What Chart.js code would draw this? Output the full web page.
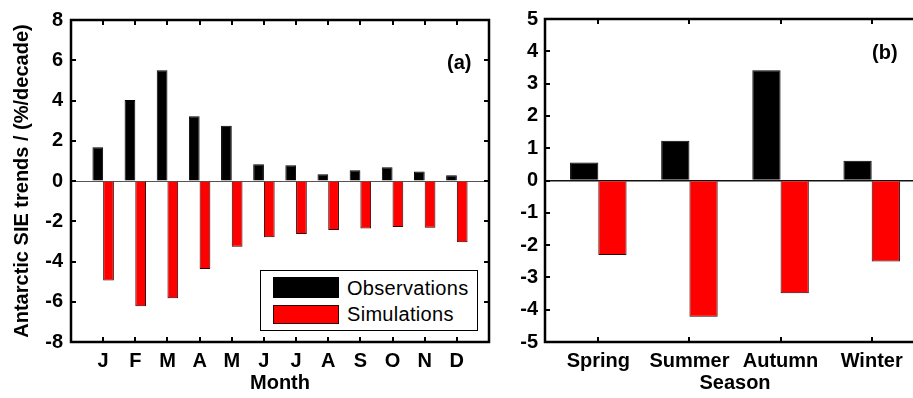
<html>
<head>
<script src="https://cdn.jsdelivr.net/npm/chart.js@4.4.1/dist/chart.umd.min.js"></script>
<style>
  body { margin: 0; padding: 0; background: #fff; width: 913px; height: 398px; overflow: hidden; position: relative; }
  canvas { position: absolute; top: 0; }
  #c1 { left: 0; }
  #c2 { left: 500px; }
  .lbl { position: absolute; font: bold 20px "Liberation Sans", Arial, sans-serif; color: #000; line-height: 20px; }
  #legend { position: absolute; left: 260px; top: 270px; width: 216px; height: 59px; border: 1.5px solid #000; background: #fff;
            font: 20px "Liberation Sans", Arial, sans-serif; letter-spacing: 0.3px; }
  #legend .sw { position: absolute; left: 12px; width: 66px; }
  #legend .tx { position: absolute; left: 86px; line-height: 20px; }
</style>
</head>
<body>
<canvas id="c1" width="500" height="398"></canvas>
<canvas id="c2" width="440" height="398"></canvas>
<div class="lbl" style="left:447px; top:52px;">(a)</div>
<div class="lbl" style="left:872px; top:42px;">(b)</div>
<div id="legend">
  <div class="sw" style="top:6px; height:21px; background:#000;"></div>
  <div class="tx" style="top:7px;">Observations</div>
  <div class="sw" style="top:34px; height:17px; background:#ff0000; border:1px solid #300; width:64px;"></div>
  <div class="tx" style="top:33px;">Simulations</div>
</div>
<script>
// monthly trends (%/decade)
const months = ['J', 'F', 'M', 'A', 'M', 'J', 'J', 'A', 'S', 'O', 'N', 'D'];
const obsMonthly = [1.68, 4.02, 5.5, 3.22, 2.74, 0.83, 0.78, 0.33, 0.53, 0.68, 0.47, 0.29];
const simMonthly = [-4.94, -6.22, -5.83, -4.37, -3.27, -2.79, -2.63, -2.43, -2.36, -2.28, -2.32, -3.04];

// seasonal trends
const seasons = ['Spring', 'Summer', 'Autumn', 'Winter'];
const obsSeasonal = [0.56, 1.23, 3.41, 0.61];
const simSeasonal = [-2.31, -4.22, -3.49, -2.51];

const font = { family: '"Liberation Sans", Arial, sans-serif', size: 20, weight: 'bold' };

const framePlugin = {
    id: 'frame',
    afterDatasetsDraw(chart) {
        const ctx = chart.ctx, a = chart.chartArea;
        const x = chart.scales.x, y = chart.scales.y;
        ctx.save();
        ctx.strokeStyle = '#000';
        ctx.lineWidth = 2.5;
        ctx.strokeRect(a.left, a.top, a.right - a.left, a.bottom - a.top);
        ctx.lineWidth = 2;
        ctx.beginPath();
        x.ticks.forEach(t => {
            const px = Math.round(x.getPixelForValue(t.value));
            ctx.moveTo(px, a.bottom); ctx.lineTo(px, a.bottom - 5);
            ctx.moveTo(px, a.top); ctx.lineTo(px, a.top + 5);
        });
        y.ticks.forEach(t => {
            const py = Math.round(y.getPixelForValue(t.value));
            ctx.moveTo(a.left, py); ctx.lineTo(a.left + 5, py);
            ctx.moveTo(a.right, py); ctx.lineTo(a.right - 5, py);
        });
        ctx.stroke();
        ctx.restore();
    }
};

function makeChart(id, cats, obs, sim, opts) {
    return new Chart(document.getElementById(id), {
        type: 'bar',
        data: {
            datasets: [{
                label: 'Observations',
                data: obs.map((v, i) => ({ x: i + 1, y: v })),
                backgroundColor: '#000',
                borderColor: '#000',
                borderWidth: 1
            }, {
                label: 'Simulations',
                data: sim.map((v, i) => ({ x: i + 1, y: v })),
                backgroundColor: '#ff0000',
                borderColor: '#330000',
                borderWidth: 1
            }]
        },
        options: {
            responsive: false,
            animation: false,
            layout: { padding: opts.padding },
            datasets: { bar: { categoryPercentage: opts.catPct, barPercentage: 1 } },
            plugins: { legend: { display: false }, tooltip: { enabled: false } },
            scales: {
                x: {
                    type: 'linear',
                    offset: false,
                    min: opts.xmin,
                    max: opts.xmax,
                    grid: { display: false, drawTicks: false },
                    border: { display: false },
                    afterBuildTicks: s => { s.ticks = cats.map((c, i) => ({ value: i + 1 })); },
                    ticks: {
                        autoSkip: false, maxRotation: 0, padding: 7, color: '#000', font: font,
                        callback: v => cats[v - 1] || ''
                    },
                    title: { display: true, text: opts.xTitle, color: '#000', font: font, padding: { top: 0, bottom: 3 } },
                    afterFit: s => { s.height = 56; }
                },
                y: {
                    min: opts.ymin,
                    max: opts.ymax,
                    grid: {
                        drawTicks: false,
                        lineWidth: opts.zeroWidth,
                        color: c => (c.tick && c.tick.value === 0) ? opts.zeroColor : 'rgba(0,0,0,0)'
                    },
                    border: { display: false },
                    ticks: { stepSize: opts.ystep, padding: opts.tickPad, color: '#000', font: font },
                    title: { display: !!opts.yTitle, text: opts.yTitle, color: '#000', font: font, padding: { top: 10, bottom: 0 } },
                    afterFit: s => { s.width = opts.yWidth; }
                }
            }
        },
        plugins: [framePlugin]
    });
}

makeChart('c1', months, obsMonthly, simMonthly, {
    padding: { top: 16, right: 11, left: 0, bottom: 0 },
    catPct: 0.667, xmin: 0, xmax: 13, ymin: -8, ymax: 8, ystep: 2,
    xTitle: 'Month', yTitle: 'Antarctic SIE trends / (%/decade)',
    yWidth: 71, tickPad: 8, zeroColor: '#555', zeroWidth: 1
});

makeChart('c2', seasons, obsSeasonal, simSeasonal, {
    padding: { top: 16, right: 15, left: 0, bottom: 0 },
    catPct: 0.62, xmin: 0.415, xmax: 4.585, ymin: -5, ymax: 5, ystep: 1,
    xTitle: 'Season', yTitle: '',
    yWidth: 45, tickPad: 7, zeroColor: '#111', zeroWidth: 1.5
});
</script>
</body>
</html>
